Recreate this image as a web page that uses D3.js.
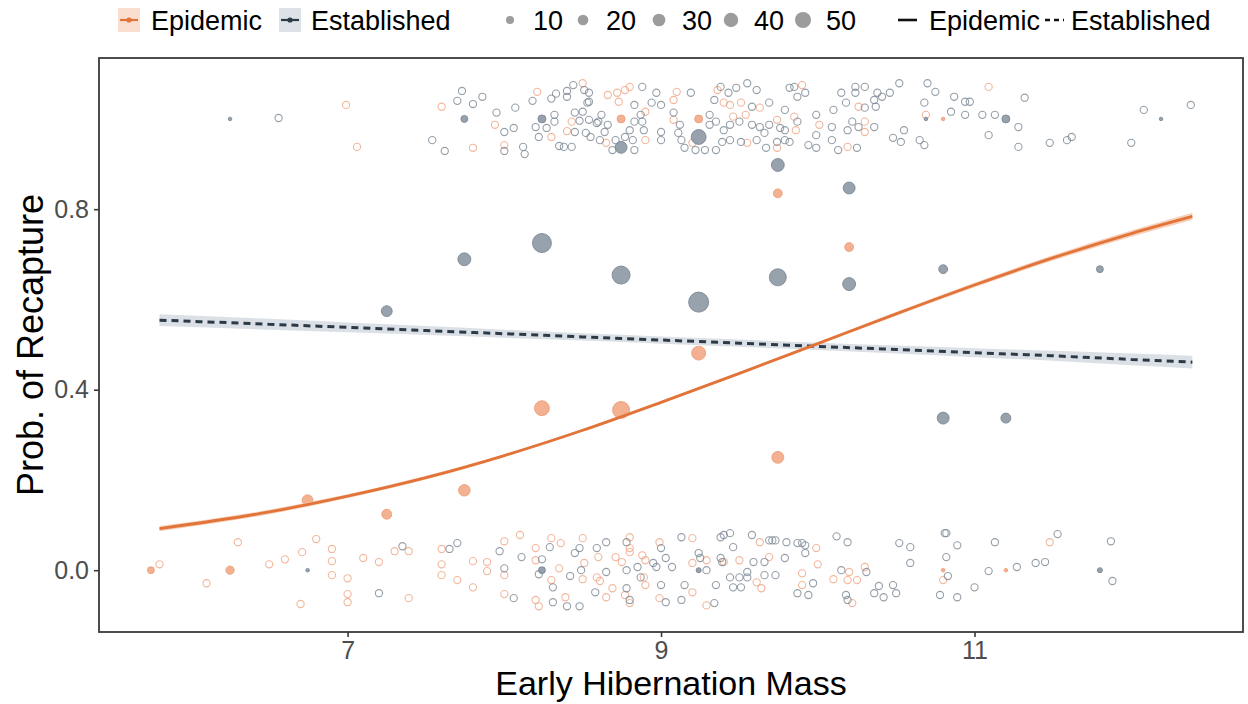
<!DOCTYPE html>
<html><head><meta charset="utf-8">
<script src="https://cdn.jsdelivr.net/npm/d3@7"></script>
<style>
html,body{margin:0;padding:0;background:#fff;}
svg{display:block;font-family:"Liberation Sans",Arial,sans-serif;}
</style></head>
<body><svg id="chart" width="1248" height="704"></svg>
<script>
// ---------------- data ----------------
const xTicks = [7, 9, 11];
const yTicks = [0.0, 0.4, 0.8];
const populations = ["Epidemic", "Established"];
const sizeLegendValues = [10, 20, 30, 40, 50];

// raw observations (mass, jittered recapture 0/1)
const rawEpidemic = [
[6.99,1.031],[7.06,0.938],[7.60,1.027],[7.80,0.936],[7.94,0.987],[8.00,0.942],[8.21,1.060],[8.30,0.960],[8.50,1.079],[8.40,0.973],[8.43,0.994],[8.65,0.947],[8.90,0.953],[8.66,1.053],[8.72,1.058],[8.77,1.064],[8.80,1.071],[8.73,1.038],[8.90,1.016],[9.08,1.042],[9.10,1.060],[9.08,0.998],[9.20,0.947],[9.36,1.064],[9.40,1.036],[9.44,1.031],[9.51,1.036],[9.46,1.005],[9.54,1.009],[9.63,1.025],[9.55,0.947],[9.74,0.998],[9.74,0.936],[9.90,1.075],[9.85,1.005],[9.86,0.975],[10.01,0.987],[10.26,1.027],[10.30,0.994],[10.30,0.971],[10.19,0.938],[10.69,1.009],[11.09,1.071],
[5.80,0.013],[6.30,0.062],[6.10,-0.029],[6.50,0.013],[6.60,0.024],[6.71,0.040],[6.80,0.069],[6.90,0.047],[6.90,0.020],[6.90,-0.011],[7.00,-0.018],[7.00,-0.053],[7.00,-0.071],[6.70,-0.075],[7.10,0.027],[7.20,0.018],[7.30,0.042],[7.39,0.042],[7.39,-0.062],[7.60,0.047],[7.60,0.013],[7.60,-0.011],[7.70,-0.022],[7.80,0.020],[7.80,-0.038],[7.89,0.018],[7.89,-0.002],[8.00,0.064],[8.00,-0.011],[8.00,-0.053],[8.10,0.078],[8.20,0.049],[8.20,0.022],[8.20,-0.066],[8.22,-0.080],[8.30,0.071],[8.30,-0.022],[8.36,0.060],[8.35,0.004],[8.39,-0.060],[8.50,0.071],[8.51,0.016],[8.50,-0.020],[8.59,-0.016],
[8.60,0.029],[8.61,-0.024],[8.65,-0.060],[8.69,-0.040],[8.71,0.029],[8.75,0.018],[8.80,0.073],[8.80,0.049],[8.80,0.040],[8.77,-0.055],[8.80,-0.073],[8.88,0.033],[8.90,0.022],[8.89,-0.016],[8.90,-0.033],[8.99,0.062],[8.99,-0.062],[9.20,0.071],[9.20,0.016],[9.20,-0.049],[9.29,0.022],[9.29,-0.078],[9.40,0.018],[9.50,0.022],[9.61,-0.027],[9.64,-0.040],[9.63,0.062],[9.69,0.029],[9.90,-0.007],[9.90,-0.033],[9.99,0.049],[10.00,0.013],[10.10,-0.020],[10.19,-0.022],[10.20,-0.004],[10.25,-0.022],[10.30,0.007],[10.22,-0.073],[10.80,-0.022],[11.48,0.062]
];
const rawEstablished = [
[6.56,1.002],[7.73,1.062],[7.70,1.040],[7.80,1.033],[7.86,1.049],[7.54,0.953],[7.62,0.929],[7.95,1.014],[8.00,0.971],[8.06,0.980],[8.07,1.025],[8.00,0.929],[8.12,0.938],[8.13,0.922],[8.18,1.040],[8.30,1.045],[8.33,1.056],[8.20,0.982],[8.27,0.980],[8.22,0.960],[8.32,1.009],[8.32,0.994],[8.40,1.049],[8.40,1.062],[8.44,1.075],[8.51,1.064],[8.54,1.058],[8.54,1.038],[8.45,0.971],[8.45,1.014],[8.50,1.016],[8.48,0.996],[8.54,0.998],[8.52,0.969],[8.55,0.960],[8.35,0.940],[8.38,0.938],[8.43,0.938],[8.59,0.991],
[8.53,1.036],[8.60,0.994],[8.62,1.009],[8.66,0.987],[8.64,0.971],[8.61,0.953],[8.69,0.931],[8.71,0.953],[8.77,0.960],[8.82,0.953],[8.80,0.975],[8.83,0.931],[8.83,0.994],[8.88,0.994],[8.89,0.975],[8.87,1.009],[8.83,1.031],[8.88,1.071],[8.97,1.058],[8.94,1.036],[9.00,1.031],[9.00,0.971],[9.00,0.953],[9.19,1.058],[9.08,1.014],[9.12,0.987],[9.11,0.969],[9.13,0.953],[9.15,0.936],[9.22,0.931],[9.31,1.009],[9.34,1.042],[9.38,1.071],[9.43,1.058],[9.48,1.069],[9.55,1.079],[9.61,1.064],[9.31,0.987],[9.35,0.994],[9.40,0.975],[9.44,0.987],[9.50,0.994],[9.58,1.027],[9.58,0.987],[9.63,0.982],[9.69,0.987],[9.66,0.969],[9.61,0.953],[9.51,0.949],[9.44,0.953],[9.39,0.949],[9.35,0.931],[9.28,0.931],[9.69,1.036],[9.76,0.980],[9.79,0.953],[9.74,0.949],[9.67,0.936],[9.82,1.069],[9.85,1.071],[9.92,1.058],[9.87,1.049],[9.79,1.020],[9.87,0.994],[9.79,0.975],[9.82,0.949],[9.94,0.942],[9.99,0.936],[9.99,1.009],[9.99,0.964],[10.09,0.982],[10.09,0.953],[10.13,0.931],[10.10,1.020],[10.15,1.058],[10.18,1.036],[10.24,1.071],[10.30,1.071],[10.38,1.058],[10.36,1.042],[10.24,1.058],[10.30,1.025],[10.37,1.027],[10.41,1.049],[10.46,1.058],[10.52,1.079],[10.22,0.994],[10.19,0.975],[10.26,0.982],[10.36,0.982],[10.25,0.936],[10.48,0.958],[10.53,0.949],[10.55,0.975],[10.65,0.953],[10.68,0.942],[10.70,1.079],[10.75,1.060],[10.68,1.036],[10.85,1.016],[10.87,1.049],[10.94,1.038],[10.97,1.038],[10.94,1.009],[11.05,1.009],[11.13,1.009],[11.09,0.964],[11.28,0.982],[11.32,1.047],[11.28,0.938],[11.48,0.947],[11.59,0.953],[11.62,0.960],[12.00,0.947],[12.08,1.020],[12.38,1.031],
[7.20,-0.051],[7.35,0.053],[7.65,0.047],[7.70,0.060],[7.97,0.042],[8.00,0.004],[8.06,-0.062],[8.11,0.029],[8.24,0.024],[8.22,-0.009],[8.29,0.051],[8.31,-0.038],[8.31,-0.071],[8.40,-0.080],[8.42,-0.013],[8.45,0.038],[8.48,0.049],[8.48,-0.080],[8.49,0.0],[8.59,0.049],[8.58,-0.049],
[8.65,0.062],[8.65,-0.004],[8.78,0.062],[8.78,0.0],[8.78,-0.040],[8.80,-0.066],[8.85,0.007],[8.87,-0.016],[8.95,0.016],[8.97,0.007],[9.00,0.049],[9.00,-0.033],[9.03,-0.071],[9.03,0.027],[9.07,0.007],[9.13,0.073],[9.15,-0.033],[9.13,-0.066],[9.24,0.038],[9.25,0.027],[9.29,0.0],[9.34,-0.073],[9.35,-0.033],[9.38,0.073],[9.40,0.078],[9.44,0.082],[9.46,0.051],[9.38,0.027],[9.39,0.018],[9.44,-0.016],[9.46,-0.038],[9.51,-0.038],[9.50,-0.016],[9.55,-0.004],[9.55,-0.016],[9.58,0.078],[9.59,0.018],[9.66,0.018],[9.66,-0.011],[9.69,0.066],[9.71,0.066],[9.73,0.066],[9.73,-0.011],[9.79,0.027],[9.80,0.062],[9.87,0.060],[9.90,0.060],[9.92,0.055],[9.92,0.038],[9.87,-0.051],[9.94,-0.055],[9.97,-0.029],[10.12,0.075],[10.19,0.062],[10.15,0.0],[10.31,-0.004],[10.18,-0.055],[10.19,-0.066],[10.36,-0.051],[10.39,-0.035],[10.42,-0.060],[10.48,-0.033],[10.50,-0.051],[10.52,0.060],[10.59,0.051],[10.59,0.016],[10.81,0.082],[10.82,0.082],[10.89,0.055],[10.82,0.029],[10.83,-0.013],[10.78,-0.055],[10.89,-0.060],[11.00,-0.038],[11.09,-0.002],[11.13,0.062],[11.27,0.007],[11.39,0.016],[11.45,0.018],[11.53,0.080],[11.87,0.064],[11.88,-0.024]
];

// binned means: [mass, proportion recaptured, n]
const binEpidemic = [
[5.745,0,7],[6.25,0,11],[6.745,0.155,21],[7.25,0.124,17],[7.745,0.177,24],[8.24,0.359,43],[8.745,0.355,57],[8.745,1,10],[9.24,0.481,37],[9.24,1,10],[9.745,0.25,26],[9.745,0.835,13],[10.2,0.716,13],[10.8,1,1],[10.8,0,1],[11.2,0,1]
];
const binEstablished = [
[6.25,1,1],[6.745,0,1],[7.25,0.574,21],[7.745,0.689,31],[7.745,1,7],[8.24,0.725,73],[8.24,1,10],[8.24,0,7],[8.745,0.654,65],[8.745,0.937,26],[9.24,0.594,82],[9.24,0.96,43],[9.24,0,3],[9.745,0.649,57],[9.745,0.898,31],[10.2,0.847,26],[10.2,0.634,31],[10.69,1,1],[10.8,0.667,13],[10.8,0.337,26],[11.2,0.337,17],[11.2,1,10],[11.8,0.667,7],[11.8,0,3],[12.19,1,1]
];

// fitted curves and half-width of their bands
const fitMass        = [5.80, 6.5, 7.0, 7.5, 8.0, 8.5, 9.0, 9.5, 10.0, 10.5, 11.0, 11.5, 12.0, 12.39];
const fitEpidemic    = [0.092,0.129,0.164,0.205,0.254,0.310,0.372,0.436,0.502,0.568,0.632,0.692,0.746,0.784];
const bandEpidemic   = [0.006,0.005,0.004,0.004,0.003,0.003,0.003,0.003,0.003,0.004,0.005,0.006,0.007,0.008];
const fitEstablished = [0.554,0.545,0.538,0.531,0.524,0.517,0.510,0.503,0.496,0.489,0.482,0.475,0.467,0.461];
const bandEstablished= [0.013,0.012,0.011,0.010,0.009,0.008,0.008,0.008,0.008,0.009,0.010,0.011,0.013,0.014];

// ---------------- drawing ----------------
const svg = d3.select("#chart");
const P = {l: 99, r: 1243, t: 58, b: 632};
const x = d3.scaleLinear().domain([5.414, 12.713]).range([P.l, P.r]);
const y = d3.scaleLinear().domain([-0.137, 1.135]).range([P.b, P.t]);
const rS = d3.scaleLinear().domain([Math.sqrt(10), Math.sqrt(50)]).range([4, 8]);
const rad = n => rS(Math.sqrt(n));

const col = {
  Epidemic:    {line:"#e2743a", band:"#f6c8ae", raw:"#efa582", fill:"#f2a985", stroke:"#eb9b74", key:"#fadfd0"},
  Established: {line:"#2c3a48", band:"#d3dae1", raw:"#7b8794", fill:"#8c98a4", stroke:"#768392", key:"#dce2e7"}
};

svg.append("rect").attr("width",1248).attr("height",704).attr("fill","#fff");

svg.append("clipPath").attr("id","pc").append("rect")
  .attr("x",P.l).attr("y",P.t).attr("width",P.r-P.l).attr("height",P.b-P.t);
const plot = svg.append("g").attr("clip-path","url(#pc)");

// raw hollow points
[["Epidemic", rawEpidemic], ["Established", rawEstablished]].forEach(([pop, arr]) => {
  plot.append("g").selectAll("circle").data(arr).join("circle")
    .attr("cx", d => x(d[0])).attr("cy", d => y(d[1])).attr("r", 3.6)
    .attr("fill","none").attr("stroke", col[pop].raw).attr("stroke-width",1.1)
    .attr("stroke-opacity",0.8);
});

// binned means
[["Epidemic", binEpidemic], ["Established", binEstablished]].forEach(([pop, arr]) => {
  plot.append("g").selectAll("circle").data(arr).join("circle")
    .attr("cx", d => x(d[0])).attr("cy", d => y(d[1])).attr("r", d => rad(d[2]))
    .attr("fill", col[pop].fill).attr("fill-opacity",0.9)
    .attr("stroke", col[pop].stroke).attr("stroke-width",0.8);
});

// bands and fitted lines
const fits = [
  {pop:"Established", fit:fitEstablished, band:bandEstablished, dash:"7,5", w:3},
  {pop:"Epidemic", fit:fitEpidemic, band:bandEpidemic, dash:null, w:2.8}
];
fits.forEach(f => {
  const pts = fitMass.map((m,i) => ({m, p:f.fit[i], h:f.band[i]}));
  plot.append("path").datum(pts)
    .attr("d", d3.area().x(d=>x(d.m)).y0(d=>y(d.p-d.h)).y1(d=>y(d.p+d.h)).curve(d3.curveMonotoneX))
    .attr("fill", col[f.pop].band).attr("fill-opacity",0.85);
});
fits.forEach(f => {
  const pts = fitMass.map((m,i) => ({m, p:f.fit[i]}));
  plot.append("path").datum(pts)
    .attr("d", d3.line().x(d=>x(d.m)).y(d=>y(d.p)).curve(d3.curveMonotoneX))
    .attr("fill","none").attr("stroke", col[f.pop].line).attr("stroke-width", f.w)
    .attr("stroke-dasharray", f.dash);
});

// panel border
svg.append("rect").attr("x",P.l).attr("y",P.t).attr("width",P.r-P.l).attr("height",P.b-P.t)
  .attr("fill","none").attr("stroke","#3a3a3a").attr("stroke-width",1.8);

// axes
const xa = svg.append("g").attr("transform",`translate(0,${P.b})`)
  .call(d3.axisBottom(x).tickValues(xTicks).tickFormat(d3.format("d")).tickSize(5).tickPadding(4));
const ya = svg.append("g").attr("transform",`translate(${P.l},0)`)
  .call(d3.axisLeft(y).tickValues(yTicks).tickFormat(d3.format(".1f")).tickSize(5).tickPadding(5));
[xa, ya].forEach(a => {
  a.select(".domain").remove();
  a.selectAll(".tick line").attr("stroke","#3a3a3a").attr("stroke-width",1.6);
  a.selectAll(".tick text").attr("fill","#4d4d4d").style("font-size","25px")
    .style("font-family",'"Liberation Sans",Arial,sans-serif');
});
xa.selectAll(".tick text").attr("dy","0.72em");

// axis titles
svg.append("text").attr("x",(P.l+P.r)/2).attr("y",695).attr("text-anchor","middle")
  .style("font-size","34px").attr("fill","#000").text("Early Hibernation Mass");
svg.append("text").attr("transform",`translate(43,${(P.t+P.b)/2}) rotate(-90)`)
  .attr("text-anchor","middle").style("font-size","36px").attr("fill","#000").text("Prob. of Recapture");

// legend
const lg = svg.append("g");
const ly = 20, fs = "27px";
// colour legend
const colKeys = [{pop:"Epidemic", kx:118, tx:151}, {pop:"Established", kx:279, tx:311}];
colKeys.forEach(k => {
  lg.append("rect").attr("x",k.kx).attr("y",ly-12).attr("width",22).attr("height",24).attr("fill",col[k.pop].key);
  lg.append("line").attr("x1",k.kx+2).attr("x2",k.kx+20).attr("y1",ly).attr("y2",ly)
    .attr("stroke",col[k.pop].line).attr("stroke-width",2.2);
  lg.append("circle").attr("cx",k.kx+11).attr("cy",ly).attr("r",2.6).attr("fill",col[k.pop].line);
  lg.append("text").attr("x",k.tx).attr("y",ly+10).style("font-size",fs).attr("fill","#000").text(k.pop);
});
// size legend
const sizeX = d3.scaleOrdinal().domain(sizeLegendValues).range([510, 583, 659, 731, 803]);
sizeLegendValues.forEach(v => {
  lg.append("circle").attr("cx",sizeX(v)).attr("cy",ly).attr("r",rad(v)).attr("fill","#9c9c9c");
  lg.append("text").attr("x",sizeX(v)+23).attr("y",ly+10).style("font-size",fs).attr("fill","#000").text(v);
});
// linetype legend
const ltKeys = [{pop:"Epidemic", kx:898, tx:929, dash:null}, {pop:"Established", kx:1045, tx:1071, dash:"5,4"}];
ltKeys.forEach(k => {
  lg.append("line").attr("x1",k.kx).attr("x2",k.kx+19).attr("y1",ly).attr("y2",ly)
    .attr("stroke","#111").attr("stroke-width",2.6).attr("stroke-dasharray",k.dash);
  lg.append("text").attr("x",k.tx).attr("y",ly+10).style("font-size",fs).attr("fill","#000").text(k.pop);
});
</script>
</body></html>
